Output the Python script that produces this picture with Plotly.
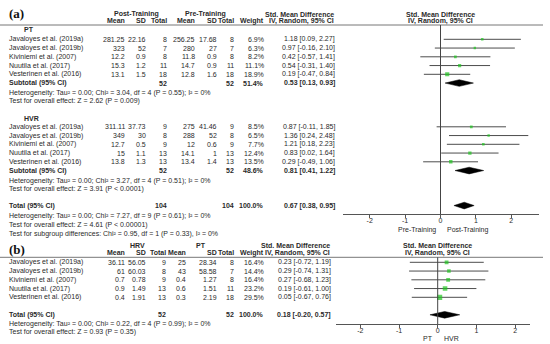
import plotly.graph_objects as go

# ---------------- DATA ----------------
studies = ["Javaloyes et al. (2019a)", "Javaloyes et al. (2019b)", "Kiviniemi et al. (2007)",
           "Nuutila et al. (2017)", "Vesterinen et al. (2016)"]

# Panel (a) - PT subgroup
pt_post_mean = [281.25, 323, 12.2, 15.3, 13.1]
pt_post_sd = [22.16, 52, 0.9, 1.2, 1.5]
pt_post_n = [8, 7, 8, 11, 18]
pt_pre_mean = [256.25, 280, 11.8, 14.7, 12.8]
pt_pre_sd = [17.68, 27, 0.9, 0.9, 1.6]
pt_pre_n = [8, 7, 8, 11, 18]
pt_weight = [6.9, 6.3, 8.2, 11.1, 18.9]
pt_smd = [1.18, 0.97, 0.42, 0.54, 0.19]
pt_lo = [0.09, -0.16, -0.57, -0.31, -0.47]
pt_hi = [2.27, 2.10, 1.41, 1.40, 0.84]
pt_sub = dict(n1=52, n2=52, w=51.4, smd=0.53, lo=0.13, hi=0.93)
pt_het = "Heterogeneity: Tau² = 0.00; Chi² = 3.04, df = 4 (P = 0.55); I² = 0%"
pt_test = "Test for overall effect: Z = 2.62 (P = 0.009)"

# Panel (a) - HVR subgroup
hvr_post_mean = [311.11, 349, 12.7, 15, 13.8]
hvr_post_sd = [37.73, 30, 0.5, 1.1, 1.3]
hvr_post_n = [9, 8, 9, 13, 13]
hvr_pre_mean = [275, 288, 12, 14.1, 13.4]
hvr_pre_sd = [41.46, 52, 0.6, 1, 1.4]
hvr_pre_n = [9, 8, 9, 13, 13]
hvr_weight = [8.5, 6.5, 7.7, 12.4, 13.5]
hvr_smd = [0.87, 1.36, 1.21, 0.83, 0.29]
hvr_lo = [-0.11, 0.24, 0.18, 0.02, -0.49]
hvr_hi = [1.85, 2.48, 2.23, 1.64, 1.06]
hvr_sub = dict(n1=52, n2=52, w=48.6, smd=0.81, lo=0.41, hi=1.22)
hvr_het = "Heterogeneity: Tau² = 0.00; Chi² = 3.27, df = 4 (P = 0.51); I² = 0%"
hvr_test = "Test for overall effect: Z = 3.91 (P < 0.0001)"

a_total = dict(n1=104, n2=104, w=100.0, smd=0.67, lo=0.38, hi=0.95)
a_total_het = "Heterogeneity: Tau² = 0.00; Chi² = 7.27, df = 9 (P = 0.61); I² = 0%"
a_total_test = "Test for overall effect: Z = 4.61 (P < 0.00001)"
a_subgroup = "Test for subgroup differences: Chi² = 0.95, df = 1 (P = 0.33), I² = 0%"

# Panel (b) - HRV vs PT
b_hrv_mean = [36.11, 61, 0.7, 0.9, 0.4]
b_hrv_sd = [56.05, 60.03, 0.78, 1.49, 1.91]
b_hrv_n = [9, 8, 9, 13, 13]
b_pt_mean = [25, 43, 0.4, 0.6, 0.3]
b_pt_sd = [28.34, 58.58, 1.27, 1.51, 2.19]
b_pt_n = [8, 7, 8, 11, 18]
b_weight = [16.4, 14.4, 16.4, 23.2, 29.5]
b_smd = [0.23, 0.29, 0.27, 0.19, 0.05]
b_lo = [-0.72, -0.74, -0.68, -0.61, -0.67]
b_hi = [1.19, 1.31, 1.23, 1.00, 0.76]
b_total = dict(n1=52, n2=52, w=100.0, smd=0.18, lo=-0.20, hi=0.57)
b_het = "Heterogeneity: Tau² = 0.00; Chi² = 0.22, df = 4 (P = 0.99); I² = 0%"
b_test = "Test for overall effect: Z = 0.93 (P = 0.35)"

tick_vals = [-2, -1, 0, 1, 2]
tick_text = ["-2", "-1", "0", "1", "2"]

# ---------------- LAYOUT CONSTANTS ----------------
W, H = 550, 344
FONT = "Liberation Sans, Arial, sans-serif"
TXT = "#2a2a2a"
FS = 7
ROW = 8.75
Y0A = 39.3
Y0B = 262.3

def ya(r):
    return Y0A + r * ROW

def yb(r):
    return Y0B + r * ROW

def fmt(v):
    return f"{v:g}"

def ci(s, l, h):
    return f"{s:.2f} [{l:.2f}, {h:.2f}]"

annotations = []

def txt(x, y, s, anchor="right", bold=False, size=FS, family=FONT, color=TXT, xref="x", xshift=0):
    annotations.append(dict(
        x=x, y=y, xref=xref, yref="y", text=f"<b>{s}</b>" if bold else s,
        showarrow=False, xanchor=anchor, yanchor="middle", xshift=xshift,
        font=dict(size=size, family=family, color=color)))

# column positions (px)
A_COL = dict(m1=127, sd1=148, n1=169, m2=197, sd2=219, n2=236, w=266, ci=337)
B_COL = dict(m1=127, sd1=148, n1=168, m2=188, sd2=219, n2=236, w=266, ci=333)
LX = 7

def study_rows(yf, r0, cols, m1, s1, n1, m2, s2, n2, w, smd, lo, hi):
    for i in range(len(studies)):
        y = yf(r0 + i)
        txt(LX, y, studies[i], anchor="left")
        txt(cols["m1"], y, fmt(m1[i]))
        txt(cols["sd1"], y, fmt(s1[i]))
        txt(cols["n1"], y, fmt(n1[i]))
        txt(cols["m2"], y, fmt(m2[i]))
        txt(cols["sd2"], y, fmt(s2[i]))
        txt(cols["n2"], y, fmt(n2[i]))
        txt(cols["w"], y, f"{w[i]:.1f}%")
        txt(cols["ci"], y, ci(smd[i], lo[i], hi[i]))

def summary_row(yf, r, cols, label, d):
    y = yf(r)
    txt(LX, y, label, anchor="left", bold=True)
    txt(cols["n1"], y, str(d["n1"]), bold=True)
    txt(cols["n2"], y, str(d["n2"]), bold=True)
    txt(cols["w"], y, f"{d['w']:.1f}%", bold=True)
    txt(cols["ci"], y, ci(d["smd"], d["lo"], d["hi"]), bold=True)

# ----- Panel (a) text -----
txt(LX, 13.5, "(a)", anchor="left", bold=True, size=13, family="Liberation Serif, Times New Roman, serif", color="#111")
txt(136, 14, "Post-Training", anchor="center", bold=True)
txt(205, 14, "Pre-Training", anchor="center", bold=True)
txt(336, 14, "Std. Mean Difference", bold=True)
for key, lab in [("m1", "Mean"), ("sd1", "SD"), ("n1", "Total"), ("m2", "Mean"),
                 ("sd2", "SD"), ("n2", "Total"), ("w", "Weight")]:
    txt(A_COL[key], 20.8, lab, bold=True)
txt(336, 20.8, "IV, Random, 95% CI", bold=True)
txt(0, 14, "Std. Mean Difference", anchor="center", bold=True, xref="x2")
txt(0, 20.8, "IV, Random, 95% CI", anchor="center", bold=True, xref="x2")

txt(22, ya(-1.1), "PT", anchor="left", bold=True)
study_rows(ya, 0, A_COL, pt_post_mean, pt_post_sd, pt_post_n, pt_pre_mean, pt_pre_sd, pt_pre_n,
           pt_weight, pt_smd, pt_lo, pt_hi)
summary_row(ya, 5, A_COL, "Subtotal (95% CI)", pt_sub)
txt(LX, ya(6.1), pt_het, anchor="left")
txt(LX, ya(7.1), pt_test, anchor="left")

txt(22, ya(9), "HVR", anchor="left", bold=True)
study_rows(ya, 10, A_COL, hvr_post_mean, hvr_post_sd, hvr_post_n, hvr_pre_mean, hvr_pre_sd, hvr_pre_n,
           hvr_weight, hvr_smd, hvr_lo, hvr_hi)
summary_row(ya, 15, A_COL, "Subtotal (95% CI)", hvr_sub)
txt(LX, ya(16.15), hvr_het, anchor="left")
txt(LX, ya(17.15), hvr_test, anchor="left")

summary_row(ya, 19, A_COL, "Total (95% CI)", a_total)
txt(LX, ya(20.2), a_total_het, anchor="left")
txt(LX, ya(21.2), a_total_test, anchor="left")
txt(LX, ya(22.2), a_subgroup, anchor="left")

txt(0, 229.5, "Pre-Training", anchor="right", xref="x2", xshift=-3)
txt(0, 229.5, "Post-Training", anchor="left", xref="x2", xshift=4)

# ----- Panel (b) text -----
txt(LX, 249, "(b)", anchor="left", bold=True, size=13, family="Liberation Serif, Times New Roman, serif", color="#111")
txt(137, 245, "HRV", anchor="center", bold=True)
txt(201, 245, "PT", anchor="center", bold=True)
txt(332, 245, "Std. Mean Difference", bold=True)
for key, lab in [("m1", "Mean"), ("sd1", "SD"), ("n1", "Total"), ("m2", "Mean"),
                 ("sd2", "SD"), ("n2", "Total"), ("w", "Weight")]:
    txt(B_COL[key], 252.5, lab, bold=True)
txt(332, 252.5, "IV, Random, 95% CI", bold=True)
txt(0, 245, "Std. Mean Difference", anchor="center", bold=True, xref="x3")
txt(0, 252.5, "IV, Random, 95% CI", anchor="center", bold=True, xref="x3")

study_rows(yb, 0, B_COL, b_hrv_mean, b_hrv_sd, b_hrv_n, b_pt_mean, b_pt_sd, b_pt_n,
           b_weight, b_smd, b_lo, b_hi)
summary_row(yb, 6, B_COL, "Total (95% CI)", b_total)
txt(LX, yb(7), b_het, anchor="left")
txt(LX, yb(8), b_test, anchor="left")

txt(0, 338.5, "PT", anchor="right", xref="x3", xshift=-3)
txt(0, 338.5, "HVR", anchor="left", xref="x3", xshift=4)

# ---------------- FOREST MARKS ----------------
fig = go.Figure()
GREEN = "#1fc41f"
CI_COL = "#4d4d4d"

def forest(xa, yaxn, r0s, smd, lo, hi, weight, diamonds, sq_k):
    xs, ys = [], []
    for r, l, h in zip(r0s, lo, hi):
        xs += [l, h, None]
        ys += [r, r, None]
    fig.add_trace(go.Scatter(x=xs, y=ys, xaxis=xa, yaxis=yaxn, mode="lines",
                             line=dict(color=CI_COL, width=1), hoverinfo="skip"))
    fig.add_trace(go.Scatter(x=smd, y=r0s, xaxis=xa, yaxis=yaxn, mode="markers",
                             marker=dict(symbol="square", color=GREEN,
                                         size=[sq_k * w ** 0.5 for w in weight], line=dict(width=0))))
    for r, d in diamonds:
        hh = 0.38
        fig.add_trace(go.Scatter(x=[d["lo"], d["smd"], d["hi"], d["smd"], d["lo"]],
                                 y=[r, r - hh, r, r + hh, r], xaxis=xa, yaxis=yaxn,
                                 mode="lines", fill="toself", fillcolor="black",
                                 line=dict(color="black", width=0.5), hoverinfo="skip"))

forest("x2", "y2", [0, 1, 2, 3, 4], pt_smd, pt_lo, pt_hi, pt_weight, [(5, pt_sub)], 0.95)
forest("x2", "y2", [10, 11, 12, 13, 14], hvr_smd, hvr_lo, hvr_hi, hvr_weight,
       [(15, hvr_sub), (19, a_total)], 0.95)
forest("x3", "y3", [0, 1, 2, 3, 4], b_smd, b_lo, b_hi, b_weight, [(6, b_total)], 0.95)

# ---------------- AXES ----------------
def xdom(p0, p1):
    return [p0 / W, p1 / W]

def ydom(top, bot):
    return [1 - bot / H, 1 - top / H]

# panel a forest geometry (px)
A_X0, A_X1, A_ZERO, A_SCALE = 342.7, 539.0, 440.5, 35.4
A_YT, A_YB = 25.0, 214.0
B_X0, B_X1, B_ZERO, B_SCALE = 336.0, 530.0, 437.7, 38.7
B_YT, B_YB = 257.3, 324.0

hidden = dict(visible=False, showgrid=False, zeroline=False, fixedrange=True)
fx = dict(showline=True, linecolor="#555", linewidth=1, ticks="outside", ticklen=3,
          tickcolor="#555", tickwidth=1, tickvals=tick_vals, ticktext=tick_text,
          ticklabelstandoff=-3,
          tickfont=dict(size=FS, family=FONT, color=TXT), showgrid=False, zeroline=False,
          fixedrange=True)

fig.update_layout(
    width=W, height=H, margin=dict(l=0, r=0, t=0, b=0),
    paper_bgcolor="white", plot_bgcolor="rgba(0,0,0,0)", showlegend=False,
    xaxis=dict(range=[0, W], domain=[0, 1], **hidden),
    yaxis=dict(range=[H, 0], domain=[0, 1], **hidden),
    xaxis2=dict(domain=xdom(A_X0, A_X1), anchor="y2",
                range=[(A_X0 - A_ZERO) / A_SCALE, (A_X1 - A_ZERO) / A_SCALE], **fx),
    yaxis2=dict(domain=ydom(A_YT, A_YB), anchor="x2",
                range=[(A_YB - Y0A) / ROW, (A_YT - Y0A) / ROW], **hidden),
    xaxis3=dict(domain=xdom(B_X0, B_X1), anchor="y3",
                range=[(B_X0 - B_ZERO) / B_SCALE, (B_X1 - B_ZERO) / B_SCALE], **fx),
    yaxis3=dict(domain=ydom(B_YT, B_YB), anchor="x3",
                range=[(B_YB - Y0B) / ROW, (B_YT - Y0B) / ROW], **hidden),
    annotations=annotations,
    shapes=[
        dict(type="line", xref="x", yref="y", x0=0, x1=543, y0=A_YT, y1=A_YT,
             line=dict(color="#777", width=1)),
        dict(type="line", xref="x", yref="y", x0=0, x1=543, y0=B_YT, y1=B_YT,
             line=dict(color="#777", width=1)),
        dict(type="line", xref="x2", yref="y2 domain", x0=0, x1=0, y0=0, y1=1,
             line=dict(color="#444", width=1)),
        dict(type="line", xref="x3", yref="y3 domain", x0=0, x1=0, y0=0, y1=1,
             line=dict(color="#444", width=1)),
    ],
)

fig.write_html("out.html", config={"displayModeBar": False},
               post_script="document.body.style.margin='0';")
